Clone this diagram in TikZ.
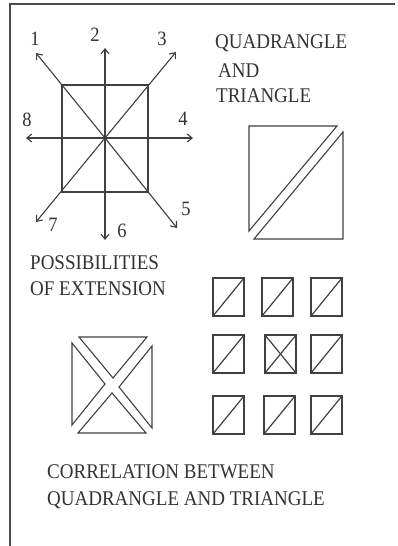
\documentclass[tikz,border=0pt]{standalone}
\usepackage{fontspec}
\setmainfont{Liberation Serif}
\usetikzlibrary{arrows.meta}
\newcommand{\tallt}[1]{\scalebox{1}[1.1]{#1}}
\begin{document}
\begin{tikzpicture}[x=1pt,y=-1pt,
  ln/.style={draw=black!75,line width=1.1pt,line join=miter},
  arr/.style={ln,-{Straight Barb[length=5pt,width=8pt]}},
  lbl/.style={anchor=base west,inner sep=0pt,text=black!80,font=\fontsize{19}{22}\selectfont},
  num/.style={anchor=base,inner sep=0pt,text=black!80,font=\fontsize{18.5}{22}\selectfont},
  cell/.style={ln,line width=1.2pt}]
\useasboundingbox (0,0) rectangle (397,546);
\fill[white] (0,0) rectangle (397,546);
% frame
\draw[draw=black!70,line width=1.1pt] (10,546) -- (10,4) -- (395,4);
% crosshair
\coordinate (c) at (105,138);
\draw[ln] (62,85) rectangle (148,192);
\coordinate (e1) at (36,53);
\coordinate (e2) at (105,48);
\coordinate (e3) at (176,52);
\coordinate (e4) at (193,138);
\coordinate (e5) at (177,228);
\coordinate (e6) at (105,240);
\coordinate (e7) at (36,222);
\coordinate (e8) at (26,138);
\foreach \i in {1,...,8}{\draw[arr] (c) -- (e\i);}
\fill[black!80] (c) circle (1.2pt);
\node[num] (n1) at (35,45) {\tallt{1}};
\node[num] (n2) at (95,41) {\tallt{2}};
\node[num] (n3) at (162,45) {\tallt{3}};
\node[num] (n4) at (183,125) {\tallt{4}};
\node[num] (n8) at (27,126) {\tallt{8}};
\node[num] (n5) at (186,215) {\tallt{5}};
\node[num] (n7) at (53,231) {\tallt{7}};
\node[num] (n6) at (122,237) {\tallt{6}};
% quadrangle and triangle
\node[lbl] (t1) at (215,48) {\tallt{QUADRANGLE}};
\node[lbl] (t2) at (218,77) {\tallt{AND}};
\node[lbl] (t3) at (216,102) {\tallt{TRIANGLE}};
\draw[ln] (249,126) -- (337,126) -- (249,231) -- cycle;
\draw[ln] (343,132) -- (343,239) -- (254,239) -- cycle;
% possibilities
\node[lbl] (p1) at (30,269) {\tallt{POSSIBILITIES}};
\node[lbl] (p2) at (30,295) {\tallt{OF EXTENSION}};
% X figure
\draw[ln] (79,337) -- (147,337) -- (113,378) -- cycle;
\draw[ln] (78,433) -- (146,433) -- (112,393) -- cycle;
\draw[ln] (72,343) -- (72,425) -- (105,384) -- cycle;
\draw[ln] (152,346) -- (152,428) -- (119,387) -- cycle;
% grid
\foreach \x/\y in {213/278,262/278,311/278,213/335,311/335,213/396,264/396,311/396}{
  \draw[cell] (\x,\y) rectangle ++(31,38);
  \draw[cell] (\x,\y+38) -- ++(31,-38);
}
\draw[cell] (265,335) rectangle ++(31,38);
\draw[cell] (265,373) -- ++(31,-38);
\draw[cell] (265,335) -- ++(31,38);
% correlation
\node[lbl] (c1) at (47,478) {\tallt{CORRELATION BETWEEN}};
\node[lbl] (c2) at (47,505) {\tallt{QUADRANGLE AND TRIANGLE}};
\end{tikzpicture}
\end{document}
